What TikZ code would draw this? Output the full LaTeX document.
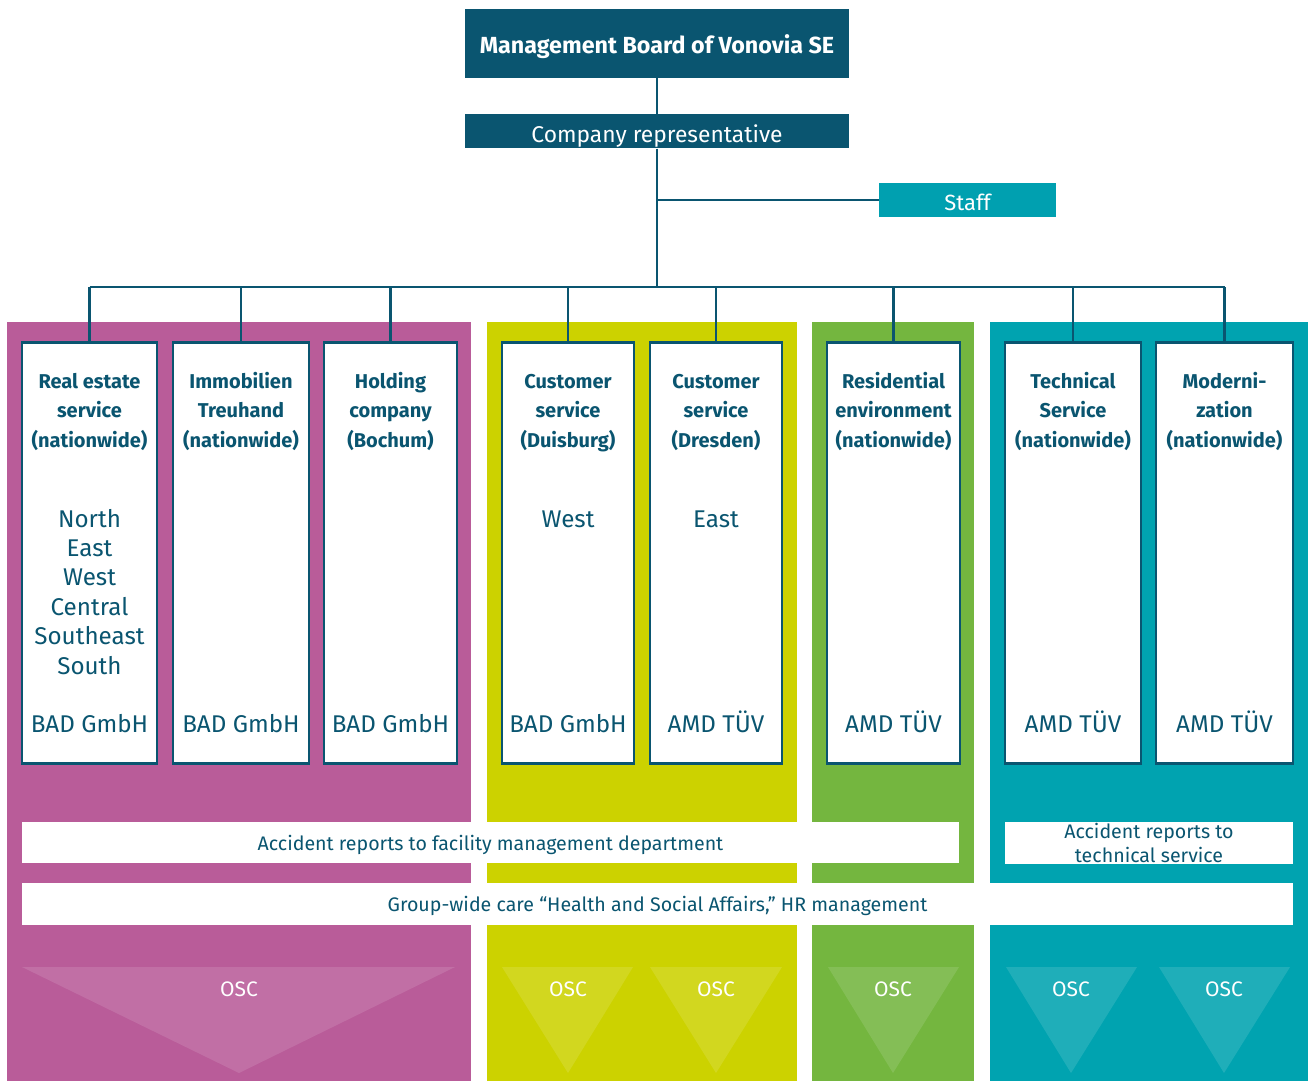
\documentclass[tikz,border=0pt]{standalone}
\usepackage{fontspec}
\setmainfont{Fira Sans}
\usetikzlibrary{positioning}

\definecolor{vnavy}{HTML}{0A5570}
\definecolor{vstaff}{HTML}{00A0B0}
\definecolor{vpink}{HTML}{B95C99}
\definecolor{vlime}{HTML}{CCD200}
\definecolor{vgreen}{HTML}{74B63F}
\definecolor{vteal}{HTML}{00A3B0}

\begin{document}
\begin{tikzpicture}[x=1pt, y=-1pt,
  head/.style={fill=vnavy, text=white, minimum width=384pt, inner sep=0pt, text depth=0pt},
  unit/.style={draw=vnavy, line width=2.5pt, fill=white, anchor=north, minimum height=421pt, inner sep=0pt},
  title/.style={anchor=base, align=center, text=vnavy, font=\fontsize{20}{29.5}\selectfont\bfseries},
  body/.style={anchor=base, align=center, text=vnavy, font=\fontsize{24.2}{29.4}\selectfont},
  band/.style={fill=white, inner sep=0pt, text=vnavy, align=center, font=\fontsize{19.6}{24}\selectfont},
  osc/.style={fill=white, fill opacity=0.12},
  osclabel/.style={anchor=base, text=white, font=\fontsize{21}{24}\selectfont},
  link/.style={draw=vnavy, line width=2.5pt}]

\useasboundingbox (0,0) rectangle (1308,1081);
\fill[white] (0,0) rectangle (1308,1081);

% Areas
\fill[vpink]  (7,322)   rectangle (471,1081);
\fill[vlime]  (487,322) rectangle (797,1081);
\fill[vgreen] (812,322) rectangle (974,1081);
\fill[vteal]  (990,322) rectangle (1308,1081);

% Management
\node (board) [head, minimum height=69pt, text height=21pt, font=\fontsize{23.3}{26}\selectfont\bfseries] at (657,43.5) {Management Board of Vonovia SE};
\node (rep) [head, minimum height=34pt, text height=22pt, font=\fontsize{22.8}{26}\selectfont, below=36pt of board] {Company representative};
\node (staff) [head, fill=vstaff, minimum width=177pt, minimum height=34pt, text height=20pt, font=\fontsize{22}{26}\selectfont] at (967.5,200) {Staff};
\coordinate (bus) at (657,287);

% Units
\node (re) [unit, minimum width=135pt] at (89.5,341) {};
\node (it) [unit, minimum width=136pt] at (241,341) {};
\node (hc) [unit, minimum width=133pt] at (390.5,341) {};
\node (cd) [unit, minimum width=132pt] at (568,341) {};
\node (cr) [unit, minimum width=132pt] at (716,341) {};
\node (rs) [unit, minimum width=133pt] at (893.5,341) {};
\node (ts) [unit, minimum width=136pt] at (1073,341) {};
\node (mo) [unit, minimum width=137pt] at (1224.5,341) {};

% titles (base = last line)
\node (re-t) [title] at (re.north |- 0,447) {Real estate\\service\\(nationwide)};
\node (it-t) [title] at (it.north |- 0,447) {Immobilien\\Treuhand\\(nationwide)};
\node (hc-t) [title] at (hc.north |- 0,447) {Holding\\company\\(Bochum)};
\node (cd-t) [title] at (cd.north |- 0,447) {Customer\\service\\(Duisburg)};
\node (cr-t) [title] at (cr.north |- 0,447) {Customer\\service\\(Dresden)};
\node (rs-t) [title] at (rs.north |- 0,447) {Residential\\environment\\(nationwide)};
\node (ts-t) [title] at (ts.north |- 0,447) {Technical\\Service\\(nationwide)};
\node (mo-t) [title] at (mo.north |- 0,447) {Moderni-\\zation\\(nationwide)};

\node (re-r) [body] at (re.north |- 0,674) {North\\East\\West\\Central\\Southeast\\South};
\node (cd-r) [body] at (cd.north |- 0,527) {West};
\node (cr-r) [body] at (cr.north |- 0,527) {East};

\node (re-b) [body] at (re.north |- 0,732) {BAD GmbH};
\node (it-b) [body] at (it.north |- 0,732) {BAD GmbH};
\node (hc-b) [body] at (hc.north |- 0,732) {BAD GmbH};
\node (cd-b) [body] at (cd.north |- 0,732) {BAD GmbH};
\node (cr-b) [body] at (cr.north |- 0,732) {AMD TÜV};
\node (rs-b) [body] at (rs.north |- 0,732) {AMD TÜV};
\node (ts-b) [body] at (ts.north |- 0,732) {AMD TÜV};
\node (mo-b) [body] at (mo.north |- 0,732) {AMD TÜV};

% Bands
\node (acc) [band, minimum width=937pt, minimum height=41pt, text height=15pt, text depth=0pt] at (490.5,842.5) {Accident reports to facility management department};
\node (acc-t) [band, minimum width=288pt, minimum height=42pt] at (1149,843) {Accident reports to\\technical service};
\node (care) [band, minimum width=1271pt, minimum height=42pt, text height=15pt, text depth=0pt] at (657.5,904) {Group-wide care “Health and Social Affairs,” HR management};

% OSC
\foreach \l/\r/\m [count=\i] in {22/455/239, 502/633/568, 650/782/716, 828/959/893, 1006/1137/1071, 1159/1290/1224} {
  \fill[osc] (\l,967) -- (\r,967) -- (\m,1073) -- cycle;
  \node (osc\i) [osclabel] at (\m,996) {OSC};
}

% Lines
\draw[link] (board) -- (rep);
\draw[link] (rep) -- (bus);
\draw[link] (staff.west) -- (staff.west -| rep.south);
\draw[link] (bus -| re.north) -- (bus -| mo.north);
\foreach \n in {re,it,hc,cd,cr,rs,ts,mo}
  \draw[link] (bus -| \n.north) -- (\n.north);

\end{tikzpicture}
\end{document}
